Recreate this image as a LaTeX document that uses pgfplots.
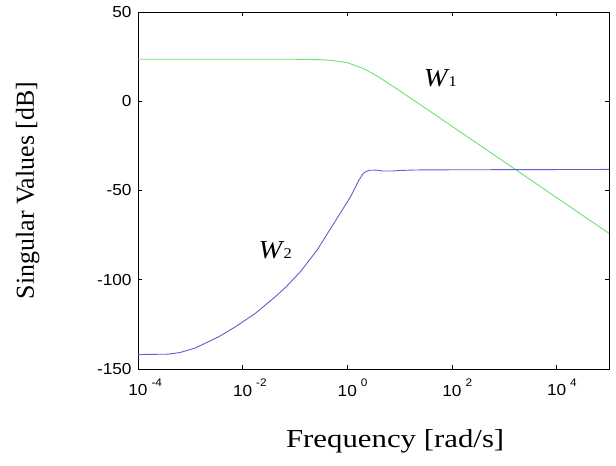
\documentclass[border=0pt]{standalone}
\usepackage{pgfplots}
\pgfplotsset{compat=1.18}
\usepackage{fontspec}
\setmainfont{Liberation Serif}
\newfontfamily\tickfont{Liberation Sans}[FakeStretch=1.08]
\newfontfamily\xlabfont{Liberation Serif}[FakeStretch=1.19]
\newfontfamily\wfont{Liberation Serif}[FakeStretch=1.1]
\definecolor{wgreen}{RGB}{110,225,110}
\definecolor{wblue}{RGB}{95,95,205}
\newcommand{\tenpow}[1]{10\rlap{\hspace{4pt}\raisebox{10pt}{\fontsize{11}{11}\selectfont #1}}}
\begin{document}
\begin{tikzpicture}
\begin{axis}[
  scale only axis,
  width=471bp, height=357bp,
  xmode=log,
  xmin=1e-4, xmax=1e5,
  ymin=-150, ymax=50,
  xtick={1e-4,1e-2,1,1e2,1e4},
  xticklabels={\tenpow{-4},\tenpow{-2},\tenpow{0},\tenpow{2},\tenpow{4}},
  ytick={-150,-100,-50,0,50},
  yticklabels={-150,-100,-50,0,50},
  minor tick num=0,
  xminorticks=false,
  ticklabel style={font=\tickfont\fontsize{16}{16}\selectfont},
  xticklabel style={yshift=-6pt},
  yticklabel style={xshift=-3pt},
  axis line style={line width=0.9pt},
  major tick length=4bp,
  tick style={black, line width=0.6pt},
  xlabel={Frequency [rad/s]},
  ylabel={Singular Values [dB]},
  xlabel style={font=\xlabfont\fontsize{26}{26}\selectfont, at={(axis description cs:0.546,-0.2017)}, anchor=center},
  ylabel style={font=\fontsize{26}{26}\selectfont, at={(axis description cs:-0.234,0.5)}, anchor=center},
  clip=false,
]
\addplot[wgreen, line width=0.9pt] coordinates {
(1e-4,23.5) (1e-2,23.5) (0.1,23.5) (0.3,23.3) (0.5,22.9) (1,21.6) (2,18.4) (3,15.7) (5,11.7) (10,5.9) (30,-3.6) (100,-14.0) (1000,-34.0) (1e4,-54.0) (1e5,-74.0)
};
\addplot[wblue, line width=0.9pt] coordinates {
(1e-4,-141.9) (3.80e-4,-141.7) (6.31e-4,-140.8) (1.23e-3,-138.3) (3.47e-3,-132.0) (7.24e-3,-126.4) (0.0174,-118.9) (0.0417,-109.6) (0.0676,-104.0) (0.126,-95.6) (0.263,-83.5) (0.550,-68.5) (1.148,-53.6) (1.66,-44.3) (2.04,-40.2) (2.57,-38.7) (3.55,-38.6) (4.90,-39.1) (7.08,-39.1) (10,-38.8) (19.95,-38.5) (100,-38.4) (1e5,-38.2)
};
\node[font=\wfont\fontsize{26}{26}\selectfont] at (axis cs:60,12.9) {\textit{W}\kern-1pt{\fontsize{15}{15}\selectfont 1}};
\node[font=\wfont\fontsize{26}{26}\selectfont] at (axis cs:0.042,-83.5) {\textit{W}\kern-1pt{\fontsize{15}{15}\selectfont 2}};
\path (rel axis cs:-0.293,-0.269) rectangle (rel axis cs:1.0149,1.0336);
\end{axis}
\end{tikzpicture}
\end{document}
